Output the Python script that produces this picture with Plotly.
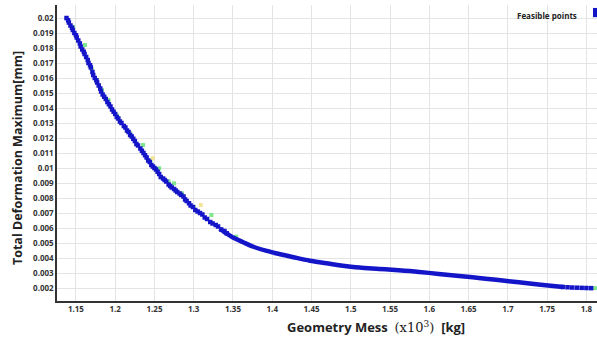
import plotly.graph_objects as go

# ---- data ----
blue_x = [1.138, 1.140, 1.141, 1.143, 1.145, 1.146, 1.148, 1.150, 1.151, 1.153, 1.155, 1.156,
          1.158, 1.160, 1.161, 1.163, 1.165, 1.166, 1.168, 1.169, 1.171, 1.172, 1.174, 1.176,
          1.177, 1.179, 1.181, 1.182, 1.184, 1.186, 1.188, 1.190, 1.192, 1.194, 1.196, 1.198,
          1.200, 1.202, 1.204, 1.206, 1.208, 1.211, 1.213, 1.215, 1.217, 1.219, 1.221, 1.223,
          1.225, 1.227, 1.229, 1.232, 1.234, 1.236, 1.238, 1.240, 1.242, 1.244, 1.246, 1.248,
          1.250, 1.252, 1.254, 1.256, 1.258, 1.261, 1.263, 1.265, 1.268, 1.270, 1.272, 1.275,
          1.277, 1.279, 1.282, 1.284, 1.287, 1.289, 1.291, 1.294, 1.296, 1.299, 1.302, 1.305,
          1.308, 1.311, 1.314, 1.317, 1.321, 1.324, 1.328, 1.331, 1.335, 1.339, 1.342,
          1.770, 1.776, 1.782, 1.788, 1.794, 1.800, 1.806]
blue_y = [0.0200, 0.01985, 0.0197, 0.0195, 0.01935, 0.0192, 0.0190, 0.01885, 0.0187, 0.0185, 0.0183, 0.0181,
          0.0179, 0.01775, 0.0176, 0.0174, 0.0172, 0.0170, 0.01685, 0.0167, 0.0164, 0.0162, 0.0160, 0.01585,
          0.0157, 0.0155, 0.0153, 0.0151, 0.0149, 0.01475, 0.0146, 0.0144, 0.01425, 0.0141, 0.0139, 0.01375,
          0.0136, 0.0134, 0.0133, 0.0131, 0.0130, 0.0128, 0.0127, 0.0125, 0.0124, 0.0122, 0.0121, 0.01195,
          0.0118, 0.0116, 0.0115, 0.0113, 0.01115, 0.0110, 0.01085, 0.0107, 0.0105, 0.0104, 0.0102, 0.0101,
          0.0100, 0.0099, 0.00975, 0.0096, 0.0094, 0.0093, 0.0092, 0.0091, 0.0089, 0.0088, 0.0087, 0.0086,
          0.0085, 0.0084, 0.0083, 0.0082, 0.0081, 0.0079, 0.0078, 0.00765, 0.0075, 0.0074, 0.0072, 0.0071,
          0.0070, 0.0069, 0.0067, 0.0066, 0.0064, 0.0063, 0.0062, 0.0061, 0.0059, 0.0058, 0.00565,
          0.00207, 0.00205, 0.00203, 0.00202, 0.00201, 0.00200, 0.00199]

# dense lower band of the front (drawn as a thick stroke through read points)
band_x = [1.333, 1.340, 1.350, 1.363, 1.376, 1.393, 1.410, 1.427, 1.448, 1.469, 1.485,
          1.500, 1.511, 1.536, 1.561, 1.587, 1.612, 1.638, 1.663, 1.688, 1.714, 1.739,
          1.764, 1.770]
band_y = [0.00595, 0.0057, 0.00537, 0.00505, 0.00475, 0.00447, 0.00425, 0.00405, 0.00382, 0.00365, 0.00352,
          0.00342, 0.00336, 0.00327, 0.00318, 0.00307, 0.00294, 0.0028, 0.00267, 0.00253, 0.00238, 0.00223,
          0.0021, 0.00207]

green_x = [1.146, 1.1615, 1.170, 1.1765, 1.183, 1.1914, 1.2025, 1.219, 1.2355, 1.245, 1.256,
           1.268, 1.275, 1.285, 1.300, 1.3225, 1.354, 1.811]
green_y = [0.0194, 0.0182, 0.0166, 0.01587, 0.0152, 0.01453, 0.0135, 0.01231, 0.01153, 0.0105, 0.00998,
           0.0091, 0.00898, 0.00831, 0.0074, 0.00687, 0.00542, 0.00199]

yellow_x = [1.248, 1.309]
yellow_y = [0.01065, 0.00753]

x_ticks = [1.15, 1.2, 1.25, 1.3, 1.35, 1.4, 1.45, 1.5, 1.55, 1.6, 1.65, 1.7, 1.75, 1.8]
y_ticks = [0.002, 0.003, 0.004, 0.005, 0.006, 0.007, 0.008, 0.009, 0.01, 0.011, 0.012,
           0.013, 0.014, 0.015, 0.016, 0.017, 0.018, 0.019, 0.02]

BLUE = "#1414c8"

fig = go.Figure()
fig.add_trace(go.Scatter(x=green_x, y=green_y, mode="markers", showlegend=False,
                         marker=dict(symbol="square", size=4, color="#7ee68c", line=dict(width=0))))
fig.add_trace(go.Scatter(x=yellow_x, y=yellow_y, mode="markers", showlegend=False,
                         marker=dict(symbol="square", size=4, color="#f4e39a", line=dict(width=0))))
fig.add_trace(go.Scatter(x=band_x, y=band_y, mode="lines", showlegend=False,
                         line=dict(color=BLUE, width=4.5, shape="spline")))
fig.add_trace(go.Scatter(x=blue_x, y=blue_y, mode="markers", name="Feasible points", showlegend=False,
                         marker=dict(symbol="square", size=4.5, color=BLUE, line=dict(width=0))))

axis_font = dict(family="Open Sans", size=8, color="#333333")
fig.update_xaxes(range=[1.1259, 1.8135], tickvals=x_ticks, ticktext=[f"<b>{v:g}</b>" for v in x_ticks],
                 showgrid=True, gridcolor="#e4e4e4", gridwidth=1, zeroline=False,
                 showline=True, linecolor="#333333", linewidth=1.5, ticks="",
                 tickfont=axis_font)
fig.update_yaxes(range=[0.001133, 0.020867], tickvals=y_ticks, ticktext=[f"<b>{v:g}</b>" for v in y_ticks],
                 showgrid=True, gridcolor="#e4e4e4", gridwidth=1, zeroline=False,
                 showline=True, linecolor="#333333", linewidth=1.5, ticks="",
                 tickfont=axis_font)

fig.update_layout(
    width=597, height=342,
    margin=dict(l=57, r=0, t=5, b=41),
    paper_bgcolor="white", plot_bgcolor="white",
    showlegend=False,
    annotations=[
        dict(text="<b>Total Deformation Maximum[mm]</b>", xref="paper", yref="paper",
             x=-0.074, y=0.483, xanchor="center", yanchor="middle", textangle=-90, showarrow=False,
             font=dict(family="Open Sans", size=12.5, color="#222222")),
        dict(text="<b>Geometry Mess</b>  <span style='font-family:DejaVu Serif;font-weight:normal'>(x10<sup>3</sup>)</span>  <b>[kg]</b>",
             xref="paper", yref="paper", x=0.5907, y=-0.088, xanchor="center", yanchor="middle",
             showarrow=False,
             font=dict(family="Open Sans", size=13, color="#222222")),
        dict(text="<b>Feasible points</b>", xref="paper", yref="paper",
             x=0.9074, y=0.966, xanchor="center", yanchor="middle", showarrow=False,
             font=dict(family="Open Sans", size=8, color="#222222")),
    ],
    shapes=[dict(type="rect", xref="paper", yref="paper", x0=0.9926, x1=1.006,
                 y0=0.959, y1=0.99, fillcolor=BLUE, line=dict(width=0))],
)

fig.write_html("out.html")
